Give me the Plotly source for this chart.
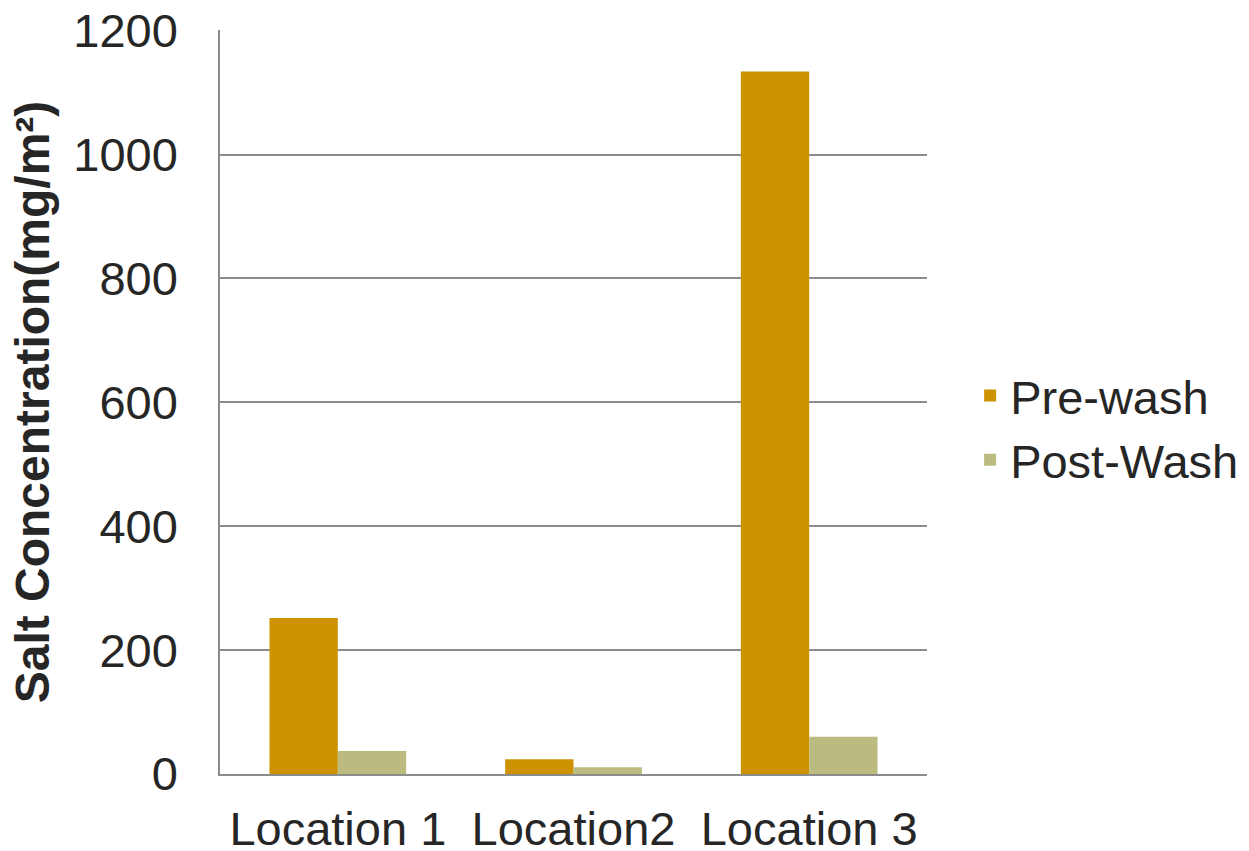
import plotly.graph_objects as go

categories = ["Location 1", "Location2", "Location 3"]
pre_wash = [252, 24, 1134]
post_wash = [37, 11, 60]
y_ticks = [0, 200, 400, 600, 800, 1000, 1200]

FONT = "Liberation Sans, Arial, sans-serif"

fig = go.Figure()
fig.add_trace(go.Bar(
    name="Pre-wash", x=categories, y=pre_wash,
    marker=dict(color="#CC9200", line=dict(width=0)),
))
fig.add_trace(go.Bar(
    name="Post-Wash", x=categories, y=post_wash,
    marker=dict(color="#BBBB80", line=dict(width=0)),
))

fig.update_layout(
    width=1249, height=851,
    margin=dict(l=220, r=322, t=30, b=77, autoexpand=False),
    paper_bgcolor="white", plot_bgcolor="white",
    barmode="group", bargap=0.42, bargroupgap=0,
    font=dict(family=FONT, size=47, color="#262626"),
    legend=dict(
        x=1.061, xanchor="left", y=0.465, yanchor="middle",
        font=dict(size=47, color="#262626"),
        itemsizing="constant", tracegroupgap=0,
        bgcolor="rgba(0,0,0,0)",
    ),
    showlegend=True,
)
fig.update_yaxes(
    range=[0, 1201], tickvals=y_ticks, ticktext=[str(v) for v in y_ticks],
    showgrid=True, gridcolor="#8C8C8C", gridwidth=1.5,
    showline=True, linecolor="#8C8C8C", linewidth=1.5,
    zeroline=False, ticks="", ticklabelstandoff=31, automargin=False,
    tickfont=dict(size=47, color="#262626"),
    title=dict(text="Salt Concentration(mg/m²)",
               font=dict(size=48, color="#262626", family=FONT, weight="bold"),
               standoff=8),
)
fig.update_xaxes(
    showgrid=False, showline=True, linecolor="#8C8C8C", linewidth=1.5,
    ticks="", ticklabelstandoff=13, automargin=False,
    tickfont=dict(size=47, color="#262626"),
)

fig.write_html("out.html")
